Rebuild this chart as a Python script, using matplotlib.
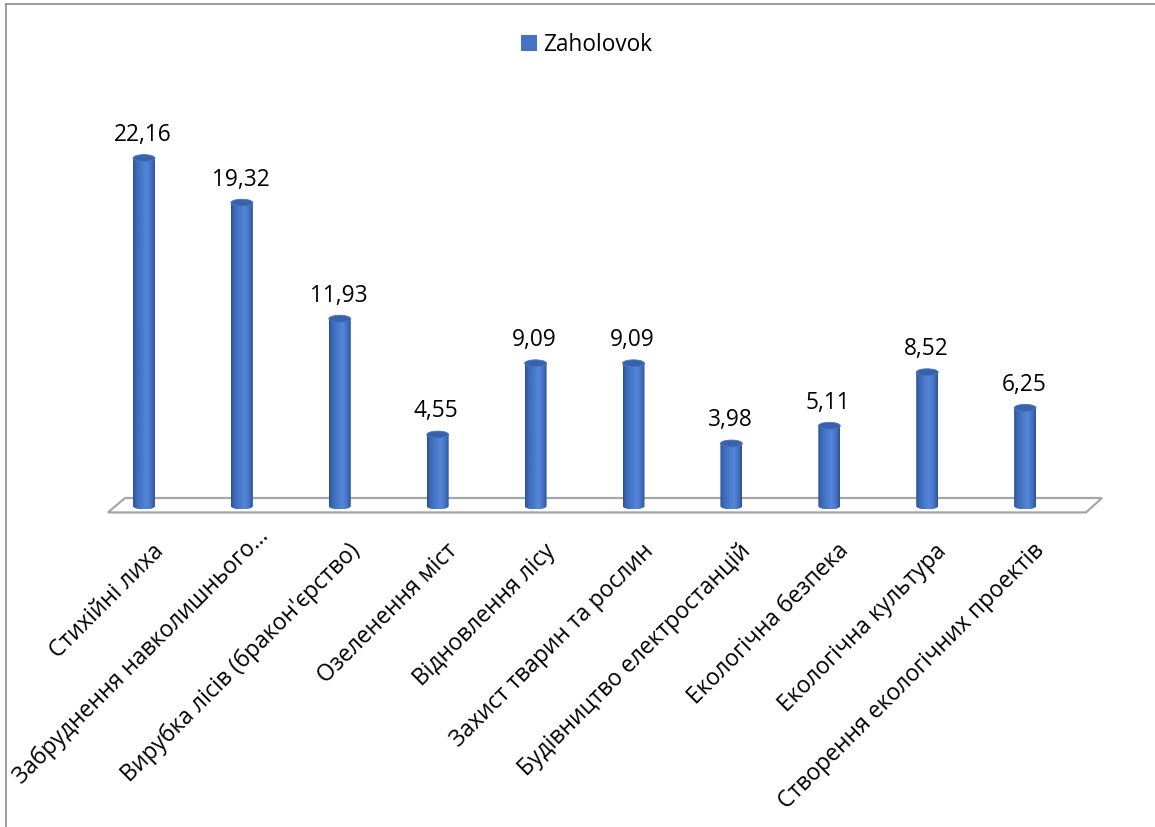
import numpy as np
import matplotlib
matplotlib.use("Agg")
import matplotlib.pyplot as plt
from matplotlib.patches import Polygon, Ellipse, PathPatch, Patch
from matplotlib.path import Path
from matplotlib.colors import LinearSegmentedColormap
from matplotlib.lines import Line2D

categories = [
    "Стихійні лиха",
    "Забруднення навколишнього…",
    "Вирубка лісів (бракон'єрство)",
    "Озеленення міст",
    "Відновлення лісу",
    "Захист тварин та рослин",
    "Будівництво електростанцій",
    "Екологічна безпека",
    "Екологічна культура",
    "Створення екологічних проектів",
]
values = [22.16, 19.32, 11.93, 4.55, 9.09, 9.09, 3.98, 5.11, 8.52, 6.25]
series_name = "Zaholovok"

plt.rcParams['font.family'] = ['Open Sans', 'DejaVu Sans']

W, H = 1155, 827
fig = plt.figure(figsize=(W / 100, H / 100), dpi=100)
fig.patch.set_facecolor('white')

# axes placement (pixel based)
px_per_x = 97.9
px_per_y = 15.7
zero_px = 506.0
x0_px = 144.0
ylo, yhi = -1.0, 24.0
xlo, xhi = -0.5, 9.5
left = (x0_px + xlo * px_per_x) / W
width = (xhi - xlo) * px_per_x / W
bottom_px = zero_px - ylo * px_per_y
top_px = zero_px - yhi * px_per_y
ax = fig.add_axes([left, (H - bottom_px) / H, width, (bottom_px - top_px) / H])
ax.set_xlim(xlo, xhi)
ax.set_ylim(ylo, yhi)
ax.axis('off')

# floor parallelogram
floor = Polygon([(-0.368, -0.41), (9.622, -0.41), (9.786, 0.51), (-0.194, 0.51)],
                closed=True, facecolor='white', edgecolor='#A6A6A6', lw=1.6,
                clip_on=False, zorder=1)
ax.add_patch(floor)

# cylinder gradient
cmap = LinearSegmentedColormap.from_list('cyl', [
    (0.0, '#2A4E8E'), (0.12, '#3B66B3'), (0.35, '#4676C8'),
    (0.62, '#5587DA'), (0.84, '#4572C2'), (1.0, '#2D5293')])
grad = np.linspace(0, 1, 64).reshape(1, -1)

hw = 0.112   # half width (data)
eh = 0.22    # ellipse semi-height (data)
x = np.arange(len(values))
for xi, v in zip(x, values):
    t = np.linspace(0, -np.pi, 40)
    pts = [(xi - hw, v), (xi + hw, v)]
    pts += [(xi + hw * np.cos(tt), eh * np.sin(tt)) for tt in t]
    pts.append((xi - hw, v))
    path = Path(pts)
    clip = PathPatch(path, facecolor='none', edgecolor='none', transform=ax.transData)
    ax.add_patch(clip)
    im = ax.imshow(grad, cmap=cmap, aspect='auto', extent=(xi - hw, xi + hw, -eh, v),
                   origin='lower', zorder=3, interpolation='bilinear')
    im.set_clip_path(clip)
    top = Ellipse((xi, v), 2 * hw, 2 * eh, facecolor='#3A62AC', edgecolor='#4A76C4',
                  lw=0.6, zorder=4)
    ax.add_patch(top)
    ax.annotate(f"{v:.2f}".replace('.', ','), xy=(xi, v), xytext=(-1, 8),
                textcoords='offset points', ha='center', va='bottom',
                fontsize=16.3, color='black', zorder=5)

# category labels (the truncated label sits slightly higher, as in Excel)
nudge = {1: (0.07, 0.96)}
for xi, lab in zip(x, categories):
    dx, dy = nudge.get(int(xi), (0.0, 0.0))
    ax.text(xi + 0.165 + dx, -2.65 + dy, lab, rotation=45, rotation_mode='anchor',
            ha='right', va='center', fontsize=16.5, color='black', clip_on=False)

# legend
handle = Patch(facecolor='#4472C4', edgecolor='none')
fig.legend([handle], [series_name], loc='center', bbox_to_anchor=(0.508, 0.9456),
           bbox_transform=fig.transFigure, frameon=False, fontsize=16.3,
           handlelength=0.68, handleheight=0.65, handletextpad=0.3)

# chart border (top & left visible)
fig.add_artist(Line2D([6 / W, 1.0], [1 - 4 / H, 1 - 4 / H], color='#8C8C8C', lw=1.2,
                      transform=fig.transFigure))
fig.add_artist(Line2D([6 / W, 6 / W], [0, 1 - 4 / H], color='#8C8C8C', lw=1.2,
                      transform=fig.transFigure))

fig.savefig('out.png', dpi=100, facecolor='white')
